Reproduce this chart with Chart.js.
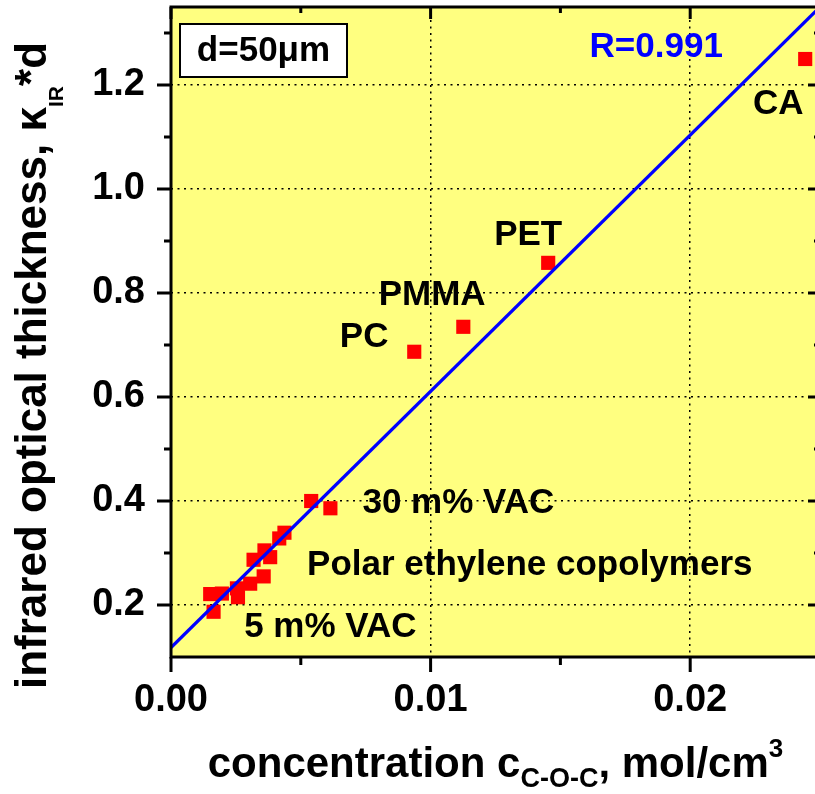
<!DOCTYPE html>
<html>
<head>
<meta charset="utf-8">
<script src="https://cdn.jsdelivr.net/npm/chart.js@4.4.0/dist/chart.umd.min.js"></script>
<style>
  html, body { margin: 0; padding: 0; background: #fff; overflow: hidden; }
  canvas { display: block; }
</style>
</head>
<body>
<canvas id="chart" width="830" height="794"></canvas>
<script>
// measured samples: C-O-C concentration (mol/cm3) vs IR optical thickness
const concX = [0.00151, 0.00164, 0.00196, 0.00254, 0.00258, 0.00305, 0.00318, 0.00357, 0.00360,
               0.00382, 0.00417, 0.00437, 0.00540, 0.00614, 0.00937, 0.01126, 0.01453, 0.02443];
const thickY = [0.221, 0.187, 0.222, 0.232, 0.215, 0.241, 0.287, 0.255, 0.305,
                0.292, 0.328, 0.339, 0.400, 0.386, 0.687, 0.735, 0.858, 1.250];

// linear fit, R=0.991
const fitX = [0, 0.025];
const fitY = [0.118, 1.35];

const xMajorTicks = [0, 0.01, 0.02];
const xMinorTicks = [0.005, 0.015];
const yMajorTicks = [0.2, 0.4, 0.6, 0.8, 1.0, 1.2];
const yMinorTicks = [0.3, 0.5, 0.7, 0.9, 1.1, 1.3];

const noteText = ['CA', 'PET', 'PMMA', 'PC', '30 m% VAC', 'Polar ethylene copolymers', '5 m% VAC', 'R=0.991'];
const noteX = [0.02339, 0.01376, 0.01006, 0.00744, 0.01107, 0.01382, 0.00614, 0.01869];
const noteY = [1.162, 0.910, 0.796, 0.714, 0.396, 0.2765, 0.157, 1.2726];
const noteColor = ['#000', '#000', '#000', '#000', '#000', '#000', '#000', '#0000ff'];

const FONT = '"Liberation Sans", Arial, sans-serif';

function fontOf(size) {
    return `bold ${size}px ${FONT}`;
}

function richWidth(ctx, parts) {
    let w = 0;
    for (const p of parts) {
        ctx.font = fontOf(p.size);
        w += ctx.measureText(p.text).width;
    }
    return w;
}

function drawRich(ctx, parts, x, y) {
    let cx = x;
    for (const p of parts) {
        ctx.font = fontOf(p.size);
        ctx.fillText(p.text, cx, y + p.dy);
        cx += ctx.measureText(p.text).width;
    }
}

const xTitle = [
    { text: 'concentration c', size: 42, dy: 0 },
    { text: 'C-O-C', size: 27, dy: 10 },
    { text: ', mol/cm', size: 42, dy: 0 },
    { text: '3', size: 26, dy: -20 }
];
const yTitle = [
    { text: 'infrared optical thickness, \u03BA', size: 44, dy: 0 },
    { text: 'IR', size: 21, dy: 17 },
    { text: '*d', size: 44, dy: 0 }
];

const plotBackground = {
    id: 'plotBackground',
    beforeDraw(chart) {
        const { ctx, chartArea: a } = chart;
        ctx.save();
        ctx.fillStyle = 'rgb(255,255,128)';
        ctx.fillRect(a.left, a.top, a.right - a.left, a.bottom - a.top);
        ctx.restore();
    }
};

const frameAndText = {
    id: 'frameAndText',
    afterDraw(chart) {
        const { ctx, chartArea: a } = chart;
        const xs = chart.scales.x, ys = chart.scales.y;
        ctx.save();
        ctx.strokeStyle = '#000';
        ctx.lineWidth = 3;
        ctx.lineCap = 'butt';
        ctx.strokeRect(a.left, a.top, a.right - a.left, a.bottom - a.top);

        // ticks: outside on bottom/left, inside on top/right
        ctx.beginPath();
        const tickX = (vals, outLen, inLen) => {
            for (const v of vals) {
                const px = xs.getPixelForValue(v);
                ctx.moveTo(px, a.bottom); ctx.lineTo(px, a.bottom + outLen);
                ctx.moveTo(px, a.top); ctx.lineTo(px, a.top + inLen);
            }
        };
        const tickY = (vals, outLen, inLen) => {
            for (const v of vals) {
                const py = ys.getPixelForValue(v);
                ctx.moveTo(a.left, py); ctx.lineTo(a.left - outLen, py);
                ctx.moveTo(a.right, py); ctx.lineTo(a.right - inLen, py);
            }
        };
        tickX(xMajorTicks, 15, 12);
        tickX(xMinorTicks, 8, 6);
        tickY(yMajorTicks, 14, 12);
        tickY(yMinorTicks, 7, 6);
        ctx.stroke();

        // d=50µm box
        ctx.fillStyle = '#fff';
        ctx.lineWidth = 2;
        ctx.fillRect(a.left + 9, a.top + 17, 167, 53);
        ctx.strokeRect(a.left + 9, a.top + 17, 167, 53);
        ctx.fillStyle = '#000';
        ctx.font = fontOf(35);
        ctx.textAlign = 'center';
        ctx.textBaseline = 'middle';
        ctx.fillText('d=50\u03BCm', a.left + 92.5, a.top + 44);

        // annotations
        for (let i = 0; i < noteText.length; i++) {
            ctx.fillStyle = noteColor[i];
            ctx.fillText(noteText[i], xs.getPixelForValue(noteX[i]), ys.getPixelForValue(noteY[i]));
        }

        // axis titles with sub/superscripts
        ctx.fillStyle = '#000';
        ctx.textAlign = 'left';
        ctx.textBaseline = 'alphabetic';
        const xw = richWidth(ctx, xTitle);
        drawRich(ctx, xTitle, (a.left + a.right) / 2 - xw / 2, 777);

        const yw = richWidth(ctx, yTitle);
        ctx.translate(46, 365.5);
        ctx.rotate(-Math.PI / 2);
        drawRich(ctx, yTitle, -yw / 2, 0);
        ctx.restore();
    }
};

const ctx = document.getElementById('chart').getContext('2d');
new Chart(ctx, {
    type: 'scatter',
    data: {
        datasets: [
            {
                label: 'fit',
                type: 'line',
                data: fitX.map((x, i) => ({ x, y: fitY[i] })),
                borderColor: '#0000ff',
                borderWidth: 3.3,
                pointRadius: 0,
                fill: false,
                order: 0
            },
            {
                label: 'samples',
                data: concX.map((x, i) => ({ x, y: thickY[i] })),
                pointStyle: 'rect',
                pointRadius: 10,
                pointHoverRadius: 10,
                backgroundColor: '#ff0000',
                borderWidth: 0,
                order: 1
            }
        ]
    },
    options: {
        responsive: false,
        animation: false,
        layout: { padding: { left: 0, top: 7, right: 10, bottom: 0 }, autoPadding: false },
        plugins: {
            legend: { display: false },
            tooltip: { enabled: false }
        },
        scales: {
            x: {
                type: 'linear',
                min: 0,
                max: 0.025,
                afterBuildTicks: s => { s.ticks = xMajorTicks.map(v => ({ value: v })); },
                afterFit: s => {
                    s.height = 137;
                    s.paddingLeft = 0; s.paddingRight = 0;
                },
                ticks: {
                    padding: 21,
                    color: '#000',
                    font: { family: FONT, size: 38, weight: 'bold' },
                    callback: v => v.toFixed(2)
                },
                grid: {
                    drawTicks: false,
                    lineWidth: 1.5,
                    color: c => (c.tick && c.tick.value > 0) ? '#000' : 'rgba(0,0,0,0)'
                },
                border: { display: false, dash: [2, 4.5] }
            },
            y: {
                type: 'linear',
                min: 0.1,
                max: 1.35,
                afterBuildTicks: s => { s.ticks = yMajorTicks.map(v => ({ value: v })); },
                afterFit: s => {
                    s.width = 171;
                    s.paddingTop = 0; s.paddingBottom = 0;
                },
                ticks: {
                    padding: 26,
                    color: '#000',
                    font: { family: FONT, size: 38, weight: 'bold' },
                    callback: v => v.toFixed(1)
                },
                grid: {
                    drawTicks: false,
                    lineWidth: 1.5,
                    color: '#000'
                },
                border: { display: false, dash: [2, 4.5] }
            }
        }
    },
    plugins: [plotBackground, frameAndText]
});
</script>
</body>
</html>
